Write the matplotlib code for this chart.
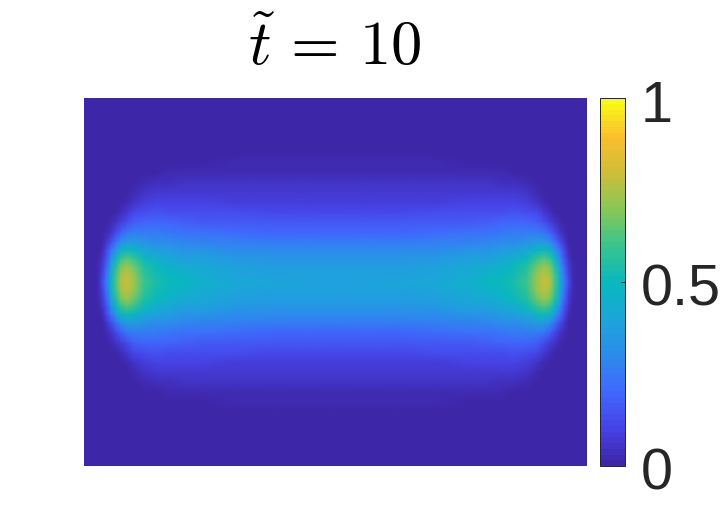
import numpy as np
import matplotlib
matplotlib.use('Agg')
import matplotlib.pyplot as plt
from matplotlib.colors import LinearSegmentedColormap
from matplotlib.transforms import ScaledTranslation

plt.rcParams['font.family'] = ['Liberation Sans', 'DejaVu Sans']
plt.rcParams['mathtext.fontset'] = 'cm'

# sample positions (left half, upper half), field is mirrored
x_half = [0, 10, 14, 18, 22, 27, 32, 37, 43, 50, 60, 72, 85, 100, 120, 150, 190, 251.5]
y_half = [0, 8, 16, 24, 32, 40, 50, 60, 70, 80, 90, 100, 110, 120, 128, 184]

field_quarter = [
    [0, .005, .03, .11, .24, .46, .62, .75, .79, .73, .60, .54, .51, .49, .44, .41, .40, .39],
    [0, .004, .025, .09, .21, .43, .60, .73, .77, .71, .59, .53, .49, .46, .43, .40, .39, .385],
    [0, .003, .02, .07, .18, .38, .55, .68, .72, .66, .56, .50, .46, .43, .41, .385, .37, .37],
    [0, .002, .012, .05, .14, .31, .47, .58, .63, .58, .50, .45, .42, .39, .38, .355, .34, .34],
    [0, 0, .006, .03, .10, .22, .35, .46, .51, .47, .42, .38, .36, .34, .33, .31, .30, .30],
    [0, 0, .002, .015, .06, .13, .23, .32, .37, .36, .34, .31, .30, .29, .28, .27, .26, .26],
    [0, 0, 0, .004, .02, .06, .11, .18, .24, .26, .26, .25, .24, .23, .22, .21, .20, .20],
    [0, 0, 0, 0, .006, .02, .05, .09, .14, .18, .20, .20, .19, .18, .17, .165, .16, .16],
    [0, 0, 0, 0, 0, .005, .015, .04, .07, .11, .14, .145, .14, .135, .13, .125, .12, .12],
    [0, 0, 0, 0, 0, 0, .003, .012, .03, .055, .085, .10, .105, .10, .095, .09, .09, .09],
    [0, 0, 0, 0, 0, 0, 0, .002, .01, .025, .05, .065, .07, .07, .07, .07, .07, .07],
    [0, 0, 0, 0, 0, 0, 0, 0, 0, .006, .02, .035, .045, .05, .05, .05, .05, .05],
    [0, 0, 0, 0, 0, 0, 0, 0, 0, 0, .004, .012, .02, .025, .03, .03, .03, .03],
    [0, 0, 0, 0, 0, 0, 0, 0, 0, 0, 0, 0, .003, .007, .012, .018, .02, .02],
    [0] * 18,
    [0] * 18,
]

parula_colors = ['#3E26A8', '#4743E8', '#4069FD', '#2C8CEC', '#1CA6D9', '#07B8BE',
                 '#38C48E', '#86C859', '#CDBE38', '#FBBE2E', '#F9FB15']
cbar_ticks = [0, 0.5, 1]
cbar_labels = ['0', '0.5', '1']
title = r'$\tilde{t}\,=\,10$'

W, H = 722, 525
parula = LinearSegmentedColormap.from_list('parula', parula_colors, N=64)

q = np.array(field_quarter)
top = np.hstack([q, q[:, -2::-1]])
z = np.vstack([top[:0:-1], top])
xh = np.array(x_half)
yh = np.array(y_half)
x = np.concatenate([xh, 503 - xh[-2::-1]])
y = np.concatenate([-yh[:0:-1], yh])

fig = plt.figure(figsize=(W / 100, H / 100), dpi=100)
ax = fig.add_axes([84 / W, 1 - 466 / H, 503 / W, 368 / H])
mesh = ax.pcolormesh(x, y, z, cmap=parula, vmin=0, vmax=1, shading='gouraud')
ax.set_xlim(0, 503)
ax.set_ylim(-184, 184)
ax.axis('off')

fig.text(335 / W, 1 - 65 / H, title, fontsize=45, ha='center', va='baseline', color='black')

cax = fig.add_axes([600 / W, 1 - 466 / H, 25 / W, 368 / H])
cbar = fig.colorbar(mesh, cax=cax)
cbar.set_ticks(cbar_ticks)
cbar.set_ticklabels(cbar_labels)
cbar.ax.tick_params(direction='in', length=3, width=0.7, labelsize=41.5, pad=11,
                    labelcolor='#262626', color='#262626')
# labels sit a little below their ticks
shift = ScaledTranslation(0, -2.5 / 100, fig.dpi_scale_trans)
for lab in cbar.ax.get_yticklabels():
    lab.set_verticalalignment('center_baseline')
    lab.set_transform(lab.get_transform() + shift)
cbar.outline.set_linewidth(0.7)
cbar.outline.set_edgecolor('#262626')

fig.savefig('out.png', dpi=100)
